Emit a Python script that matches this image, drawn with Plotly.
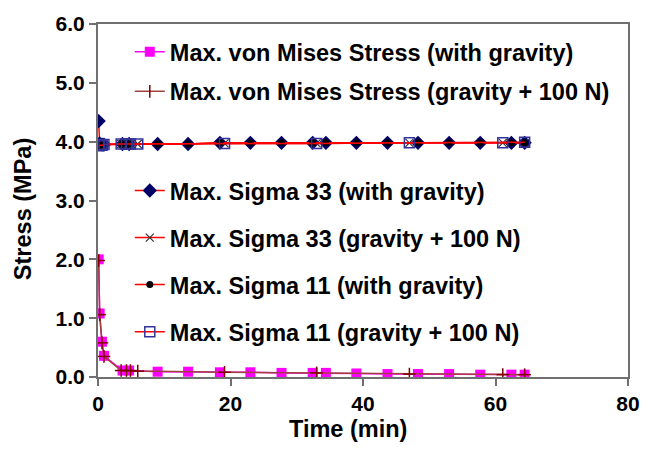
import plotly.graph_objects as go

# ---- data ----
t_grav = [0.1, 0.25, 0.6, 0.9, 3.7, 4.7, 9.0, 13.6, 18.4, 23.0, 27.7, 32.4, 34.4,
          39.0, 43.7, 48.3, 53.0, 57.7, 62.4, 64.4]
t_load = [0.1, 0.25, 0.6, 0.9, 3.5, 4.3, 4.9, 6.0, 19.1, 33.0, 47.0, 61.1, 64.4]

vm_grav = [2.00, 1.08, 0.60, 0.36, 0.11, 0.11, 0.09, 0.09, 0.08, 0.08, 0.07, 0.07,
           0.07, 0.06, 0.05, 0.05, 0.05, 0.04, 0.04, 0.04]
vm_load = [1.98, 1.06, 0.58, 0.35, 0.11, 0.11, 0.11, 0.10, 0.08, 0.07, 0.05, 0.04, 0.04]

s33_grav = [4.35, 3.97, 3.95, 3.95, 3.96, 3.96, 3.96, 3.96, 3.98, 3.98, 3.98, 3.98,
            3.98, 3.98, 3.98, 3.98, 3.98, 3.98, 3.98, 3.98]
s33_load = [3.95, 3.94, 3.94, 3.95, 3.96, 3.96, 3.96, 3.96, 3.97, 3.97, 3.98, 3.98, 3.98]
s11_grav = [3.92, 3.95, 3.95, 3.95, 3.96, 3.96, 3.96, 3.96, 3.98, 3.98, 3.98, 3.98,
            3.98, 3.98, 3.98, 3.98, 3.98, 3.98, 3.98, 3.98]
s11_load = [3.93, 3.94, 3.94, 3.95, 3.96, 3.96, 3.96, 3.96, 3.97, 3.97, 3.98, 3.98, 3.99]

names = [
    "Max. von Mises Stress (with gravity)",
    "Max. von Mises Stress (gravity + 100 N)",
    "Max. Sigma 33 (with gravity)",
    "Max. Sigma 33 (gravity + 100 N)",
    "Max. Sigma 11 (with gravity)",
    "Max. Sigma 11 (gravity + 100 N)",
]
x_ticks = [0, 20, 40, 60, 80]
y_ticks = [0, 1, 2, 3, 4, 5, 6]
x_title = "Time (min)"
y_title = "Stress (MPa)"

FONT = "Arial, Liberation Sans, sans-serif"

fig = go.Figure()

fig.add_trace(go.Scatter(
    x=t_grav, y=vm_grav, name=names[0], legend="legend", legendgroup="a",
    mode="lines+markers", line=dict(color="#FF00FF", width=1.5),
    marker=dict(symbol="square", size=10, color="#FF00FF")))
fig.add_trace(go.Scatter(
    x=t_load, y=vm_load, name=names[1], legend="legend", legendgroup="b",
    mode="lines+markers", line=dict(color="#A0403C", width=1.5),
    marker=dict(symbol="line-ns", size=9, color="#800000",
                line=dict(color="#800000", width=1.5))))
fig.add_trace(go.Scatter(
    x=t_load, y=vm_load, showlegend=False, mode="markers", hoverinfo="skip",
    marker=dict(symbol="line-ew", size=9, color="#800000",
                line=dict(color="#800000", width=1.5))))

fig.add_trace(go.Scatter(
    x=t_grav, y=s33_grav, name=names[2], legend="legend2", legendgroup="c",
    mode="lines+markers", line=dict(color="#FF0000", width=1.5),
    marker=dict(symbol="diamond", size=11, color="#000066")))
fig.add_trace(go.Scatter(
    x=t_load, y=s33_load, name=names[3], legend="legend2", legendgroup="d",
    mode="lines+markers", line=dict(color="#FF0000", width=1.5),
    marker=dict(symbol="x-thin", size=8, color="#333333",
                line=dict(color="#333333", width=1.2))))
fig.add_trace(go.Scatter(
    x=t_grav, y=s11_grav, name=names[4], legend="legend2", legendgroup="e",
    mode="lines+markers", line=dict(color="#FF0000", width=1.5),
    marker=dict(symbol="circle", size=7, color="#000000")))
fig.add_trace(go.Scatter(
    x=t_load, y=s11_load, name=names[5], legend="legend2", legendgroup="f",
    mode="lines+markers", line=dict(color="#FF0000", width=1.5),
    marker=dict(symbol="square-open", size=10, color="#333399",
                line=dict(color="#333399", width=1.5))))

fig.update_layout(
    width=654, height=449,
    margin=dict(l=98, r=26, t=15, b=72),
    paper_bgcolor="white", plot_bgcolor="white",
    font=dict(family=FONT, color="#000000"),
    legend=dict(x=0.06, y=0.983, xanchor="left", yanchor="top",
                font=dict(family=FONT, size=23.5, color="#000000", weight="bold"),
                bgcolor="rgba(0,0,0,0)", tracegroupgap=6, itemwidth=30),
    legend2=dict(x=0.06, y=0.59, xanchor="left", yanchor="top",
                 font=dict(family=FONT, size=23.5, color="#000000", weight="bold"),
                 bgcolor="rgba(0,0,0,0)", tracegroupgap=13.5, itemwidth=30),
    xaxis=dict(range=[0, 80], tickvals=x_ticks, ticks="outside", ticklen=7,
               tickcolor="#707070", tickwidth=1.5,
               showline=True, linecolor="#707070", linewidth=2, mirror=True,
               showgrid=False, zeroline=False,
               tickfont=dict(family=FONT, size=21, weight="bold")),
    yaxis=dict(range=[0, 6], tickvals=y_ticks, tickformat=".1f",
               ticks="outside", ticklen=7, tickcolor="#707070", tickwidth=1.5,
               showline=True, linecolor="#707070", linewidth=2, mirror=True,
               showgrid=False, zeroline=False,
               tickfont=dict(family=FONT, size=21, weight="bold")),
    annotations=[
        dict(text=x_title, xref="paper", yref="paper", x=0.472, y=-0.146,
             xanchor="center", yanchor="middle", showarrow=False,
             font=dict(family=FONT, size=23.5, weight="bold", color="#000000")),
        dict(text=y_title, xref="paper", yref="paper", x=-0.14, y=0.475,
             xanchor="center", yanchor="middle", showarrow=False, textangle=-90,
             font=dict(family=FONT, size=23.5, weight="bold", color="#000000")),
    ],
)

fig.write_html("out.html")
